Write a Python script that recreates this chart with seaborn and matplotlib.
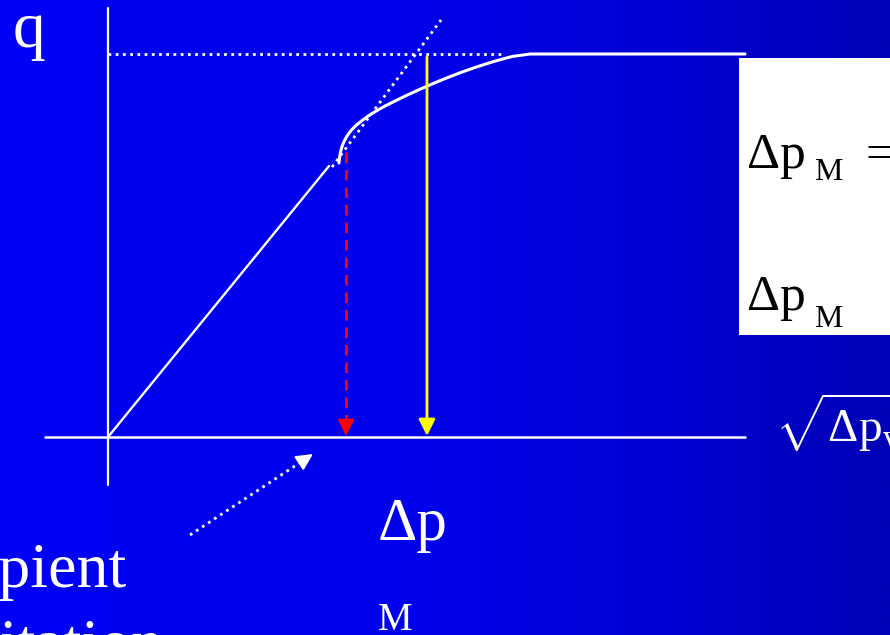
import numpy as np
import matplotlib
matplotlib.use("Agg")
import matplotlib.pyplot as plt
import seaborn as sns
import pandas as pd
from matplotlib.patches import Rectangle

# Flow q against sqrt(dp_v): straight branch up to incipient cavitation
linear_sqrt_dp = [0.0, 2.21]
linear_q = [0.0, 2.71]

# Cavitating branch, bending over into choked flow
cav_sqrt_dp = [2.310, 2.315, 2.325, 2.340, 2.360, 2.390, 2.430, 2.480, 2.540,
               2.610, 2.690, 2.780, 2.880, 2.990, 3.110, 3.240, 3.380, 3.530,
               3.690, 3.860, 4.040, 4.220, 6.370]
cav_q = [2.740, 2.790, 2.850, 2.905, 2.955, 3.010, 3.065, 3.115, 3.165,
         3.215, 3.265, 3.315, 3.365, 3.418, 3.473, 3.530, 3.588, 3.646,
         3.702, 3.756, 3.805, 3.830, 3.830]

# Tangent extension of the cavitating branch
tangent_sqrt_dp = [2.24, 3.33]
tangent_q = [2.70, 4.17]

# Maximum (choked) flow level and the two marked pressure drops
q_max = 3.83
q_max_span = [0.0, 3.97]
incipient_sqrt_dp = 2.38
incipient_q = 2.85
choked_sqrt_dp = 3.19

# Pointer toward the incipient-cavitation region
pointer_x = [0.82, 2.05]
pointer_y = [-0.98, -0.17]

XLIM = (-1.08, 7.82)
YLIM = (-1.98, 4.37)

sns.set_theme(style="white")
plt.rcParams["font.family"] = ["Liberation Serif", "DejaVu Serif"]
plt.rcParams["mathtext.fontset"] = "custom"
plt.rcParams["mathtext.rm"] = "Liberation Serif"
plt.rcParams["mathtext.it"] = "Liberation Serif"

fig = plt.figure(figsize=(8.9, 6.35), dpi=100)
ax = fig.add_axes([0, 0, 1, 1])
ax.set_xlim(*XLIM)
ax.set_ylim(*YLIM)
ax.axis("off")

# Slide background: bright blue darkening toward the right
t = np.linspace(0, 1, 512)
blue = np.interp(t, [0.0, 0.45, 0.75, 1.0], [244, 236, 210, 182]) / 255.0
grad = np.zeros((2, t.size, 3))
grad[..., 2] = blue
ax.imshow(grad, extent=[*XLIM, *YLIM], aspect="auto", zorder=0)

WHITE = "white"

# Axes of the diagram
ax.plot([0, 0], [-0.48, 4.29], color=WHITE, lw=1.6, zorder=2)
ax.plot([-0.63, 6.37], [0, 0], color=WHITE, lw=1.8, zorder=2)

# Flow curve
lin_df = pd.DataFrame({"x": linear_sqrt_dp, "q": linear_q})
cav_df = pd.DataFrame({"x": cav_sqrt_dp, "q": cav_q})
sns.lineplot(data=lin_df, x="x", y="q", sort=False, estimator=None,
             color=WHITE, lw=1.7, ax=ax, zorder=3)
sns.lineplot(data=cav_df, x="x", y="q", sort=False, estimator=None,
             color=WHITE, lw=2.2, ax=ax, zorder=3,
             solid_joinstyle="round", solid_capstyle="round")

# Dotted guides: q_max level and tangent
dot = (0, (1, 1.6))
ax.plot(q_max_span, [q_max, q_max], color=WHITE, lw=2, ls=dot,
        dash_capstyle="butt", zorder=2)
ax.plot(tangent_sqrt_dp, tangent_q, color=WHITE, lw=2, ls=dot,
        dash_capstyle="butt", zorder=2)

head = dict(arrowstyle="-|>", mutation_scale=25, shrinkA=0, shrinkB=0)

# Incipient cavitation: red dashed drop line
ax.plot([incipient_sqrt_dp, incipient_sqrt_dp], [incipient_q, 0.15],
        color="#ff0000", lw=2, ls=(0, (3.8, 2.5)), dash_capstyle="butt", zorder=4)
ax.annotate("", xy=(incipient_sqrt_dp, 0.01), xytext=(incipient_sqrt_dp, 0.15),
            arrowprops=dict(head, color="#ff0000", lw=1.5), zorder=4)

# Choked flow: yellow drop line
ax.annotate("", xy=(choked_sqrt_dp, 0.01), xytext=(choked_sqrt_dp, q_max - 0.03),
            arrowprops=dict(head, color="#ffff00", lw=2), zorder=4)

# Dotted pointer with solid head
d = np.array([pointer_x[1] - pointer_x[0], pointer_y[1] - pointer_y[0]])
d = d / np.hypot(*d)
base = np.array([pointer_x[1], pointer_y[1]]) - 0.14 * d
ax.plot([pointer_x[0], base[0]], [pointer_y[0], base[1]], color=WHITE, lw=2,
        ls=dot, dash_capstyle="butt", zorder=4)
ax.annotate("", xy=(pointer_x[1], pointer_y[1]), xytext=tuple(base),
            arrowprops=dict(head, color=WHITE, lw=1.5), zorder=4)

# White formula panel
ax.add_patch(Rectangle((6.31, 1.02), 2.0, 2.77, facecolor="white",
                       edgecolor="none", zorder=5))

txt = dict(va="baseline", ha="left", zorder=6)
ax.text(6.39, 2.69, "Δp", color="black", fontsize=37, **txt)
ax.text(7.06, 2.57, "M", color="black", fontsize=23, **txt)
ax.text(7.57, 2.69, "=", color="black", fontsize=37, **txt)
ax.text(6.39, 1.27, "Δp", color="black", fontsize=37, **txt)
ax.text(7.06, 1.10, "M", color="black", fontsize=23, **txt)

# Axis labels and annotations
ax.text(-0.95, 3.90, "q", color=WHITE, fontsize=47, **txt)
ax.text(6.67, -0.06, r"$\sqrt{\Delta \mathrm{p}_{\mathrm{v}}}$", color=WHITE,
        fontsize=34, **txt)
ax.text(2.70, -1.03, "Δp", color=WHITE, fontsize=44, **txt)
ax.text(2.70, -1.93, "M", color=WHITE, fontsize=28, **txt)
ax.text(-2.08, -1.50, "Incipient", color=WHITE, fontsize=46, **txt)
ax.text(-1.96, -2.26, "cavitation", color=WHITE, fontsize=46, **txt)

fig.savefig("out.png", dpi=100)
